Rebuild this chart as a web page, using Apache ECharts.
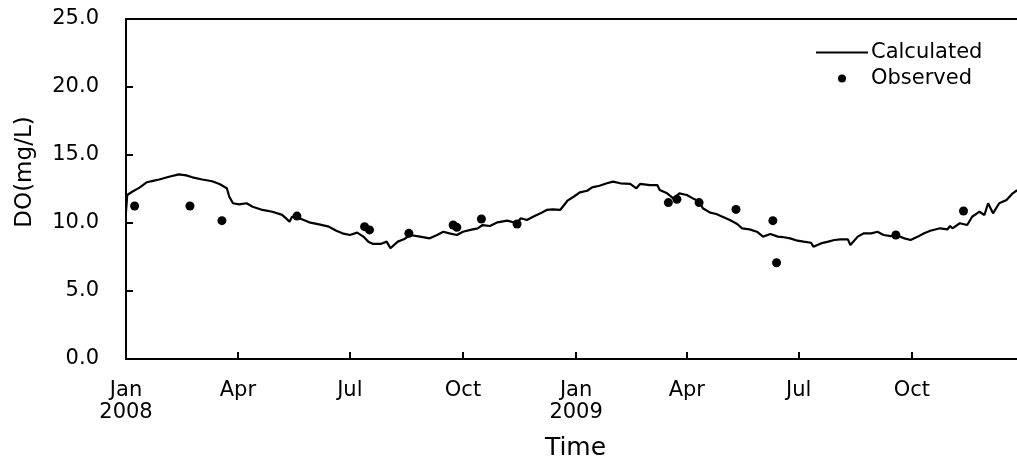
<!DOCTYPE html>
<html><head><meta charset="utf-8">
<script src="https://cdn.jsdelivr.net/npm/echarts@6/dist/echarts.min.js"></script>
<style>html,body{margin:0;padding:0;background:#fff}#c{width:1017px;height:462px}</style>
</head><body><div id="c"></div>
<script>
// Calculated DO (mg/L)
const calcDates = [
 '2008-01-01','2008-01-02','2008-01-06','2008-01-12','2008-01-18','2008-01-23','2008-01-28','2008-02-05','2008-02-13','2008-02-19',
 '2008-02-24','2008-03-03','2008-03-11','2008-03-17','2008-03-23','2008-03-25','2008-03-28','2008-04-02','2008-04-08','2008-04-13',
 '2008-04-21','2008-04-29','2008-05-07','2008-05-13','2008-05-15','2008-05-21','2008-05-29','2008-06-06','2008-06-14','2008-06-20',
 '2008-06-25','2008-07-01','2008-07-07','2008-07-12','2008-07-16','2008-07-20','2008-07-26','2008-07-31','2008-08-03','2008-08-09',
 '2008-08-14','2008-08-19','2008-08-27','2008-09-04','2008-09-10','2008-09-15','2008-09-20','2008-09-26','2008-10-01','2008-10-07',
 '2008-10-13','2008-10-17','2008-10-23','2008-10-29','2008-11-06','2008-11-14','2008-11-17','2008-11-22','2008-11-27','2008-12-03',
 '2008-12-08','2008-12-13','2008-12-19','2008-12-25','2008-12-30','2009-01-04','2009-01-10','2009-01-14','2009-01-20','2009-01-26',
 '2009-01-31','2009-02-06','2009-02-14','2009-02-19','2009-02-22','2009-03-02','2009-03-08','2009-03-10','2009-03-16','2009-03-21',
 '2009-03-26','2009-04-01','2009-04-06','2009-04-11','2009-04-14','2009-04-20','2009-04-25','2009-04-30','2009-05-06','2009-05-12',
 '2009-05-16','2009-05-22','2009-05-28','2009-06-02','2009-06-08','2009-06-14','2009-06-19','2009-06-24','2009-06-30','2009-07-05',
 '2009-07-11','2009-07-13','2009-07-19','2009-07-25','2009-07-30','2009-08-04','2009-08-10','2009-08-12','2009-08-18','2009-08-23',
 '2009-08-29','2009-09-03','2009-09-08','2009-09-14','2009-09-20','2009-09-25','2009-09-30','2009-10-06','2009-10-11','2009-10-16',
 '2009-10-24','2009-10-30','2009-11-01','2009-11-03','2009-11-09','2009-11-15','2009-11-19','2009-11-25','2009-11-29','2009-12-02',
 '2009-12-06','2009-12-11','2009-12-17','2009-12-22','2009-12-25','2009-12-31'
];
const calcValues = [
 10.8,12.06,12.3,12.6,13.0,13.1,13.2,13.4,13.58,13.5,
 13.36,13.2,13.07,12.87,12.55,11.93,11.45,11.37,11.45,11.2,
 10.96,10.83,10.6,10.1,10.46,10.35,10.05,9.9,9.73,9.43,
 9.24,9.12,9.29,9.0,8.63,8.46,8.46,8.63,8.14,8.63,
 8.8,9.12,9.0,8.87,9.12,9.36,9.24,9.12,9.36,9.49,
 9.61,9.85,9.78,10.05,10.17,9.98,10.35,10.22,10.46,10.71,
 10.96,11.0,10.96,11.64,11.93,12.25,12.37,12.62,12.74,12.92,
 13.04,12.92,12.87,12.55,12.87,12.79,12.79,12.43,12.18,11.81,
 12.18,12.06,11.81,11.6,11.08,10.76,10.66,10.46,10.22,9.93,
 9.61,9.53,9.36,9.0,9.19,9.0,8.95,8.87,8.7,8.63,
 8.55,8.26,8.5,8.63,8.75,8.8,8.8,8.38,9.0,9.24,
 9.24,9.36,9.12,9.04,9.04,8.87,8.75,9.0,9.24,9.43,
 9.61,9.53,9.78,9.61,9.98,9.85,10.46,10.83,10.59,11.45,
 10.71,11.45,11.69,12.18,12.37,12.6
];
// Observed DO (mg/L)
const obsDates = [
 '2008-01-08','2008-02-22','2008-03-19','2008-05-19','2008-07-13','2008-07-17','2008-08-18','2008-09-23','2008-09-26','2008-10-16',
 '2008-11-14','2009-03-17','2009-03-24','2009-04-11','2009-05-11','2009-06-10','2009-06-13','2009-09-18','2009-11-12'
];
const obsValues = [
 11.25,11.25,10.17,10.51,9.73,9.49,9.24,9.85,9.68,10.29,
 9.93,11.5,11.74,11.5,11.0,10.17,7.08,9.12,10.88
];
// X-axis ticks and labels
const tickDates = ['2008-01-01','2008-04-01','2008-07-01','2008-10-01','2009-01-01','2009-04-01','2009-07-01','2009-10-01'];
const tickLabels = ['Jan\n2008','Apr','Jul','Oct','Jan\n2009','Apr','Jul','Oct'];

const toTime = s => new Date(s + 'T00:00:00').getTime();
const tickTimes = tickDates.map(toTime);
const FONT = 'DejaVu Sans';

const chart = echarts.init(document.getElementById('c'), null, {renderer: 'canvas'});
chart.setOption({
  animation: false,
  backgroundColor: '#fff',
  textStyle: {fontFamily: FONT, color: '#000'},
  grid: {left: 126, top: 19, width: 899, height: 340, show: true, borderColor: '#000', borderWidth: 2,
         containLabel: false, outerBoundsMode: 'none'},
  legend: {
    orient: 'vertical', left: 815, top: 42, padding: 0, itemWidth: 52, itemHeight: 8, itemGap: 5,
    textStyle: {fontFamily: FONT, fontSize: 21, color: '#000', padding: [0, 0, 0, -2]},
    data: [
      {name: 'Calculated', itemStyle: {color: 'rgba(0,0,0,0)', borderWidth: 0}},
      {name: 'Observed', icon: 'circle'}
    ]
  },
  xAxis: {
    type: 'value',
    min: toTime('2008-01-01'), max: toTime('2010-01-01'),
    name: 'Time', nameLocation: 'middle', nameGap: 77,
    nameTextStyle: {fontFamily: FONT, fontSize: 25, color: '#000'},
    axisLine: {lineStyle: {color: '#000', width: 2}},
    axisTick: {show: true, inside: true, length: 7, lineStyle: {color: '#000', width: 2}, customValues: tickTimes},
    axisLabel: {
      customValues: tickTimes, margin: 21, fontFamily: FONT, fontSize: 21, lineHeight: 22, color: '#000',
      formatter: function (v) {
        let best = 0;
        for (let i = 1; i < tickTimes.length; i++) if (Math.abs(tickTimes[i] - v) < Math.abs(tickTimes[best] - v)) best = i;
        return tickLabels[best];
      }
    },
    splitLine: {show: false}
  },
  yAxis: {
    type: 'value', min: 0, max: 25, interval: 5,
    axisLine: {show: true, lineStyle: {color: '#000', width: 2}},
    axisTick: {show: true, inside: true, length: 7, lineStyle: {color: '#000', width: 2}},
    axisLabel: {margin: 27, fontFamily: FONT, fontSize: 21, color: '#000', formatter: v => v.toFixed(1)},
    splitLine: {show: false}
  },
  graphic: [{
    type: 'text', x: 25, y: 172, rotation: Math.PI / 2,
    style: {text: 'DO(mg/L)', fontFamily: FONT, fontSize: 23, fill: '#000', align: 'center', verticalAlign: 'middle'}
  }],
  series: [
    {
      name: 'Calculated', type: 'line', symbol: 'none', showSymbol: false,
      lineStyle: {color: '#000', width: 2.2}, itemStyle: {color: '#000'},
      data: calcDates.map((d, i) => [toTime(d), calcValues[i]])
    },
    {
      name: 'Observed', type: 'scatter', symbol: 'circle', symbolSize: 9,
      itemStyle: {color: '#000', opacity: 1},
      data: obsDates.map((d, i) => [toTime(d), obsValues[i]])
    }
  ]
});
</script>
</body></html>
